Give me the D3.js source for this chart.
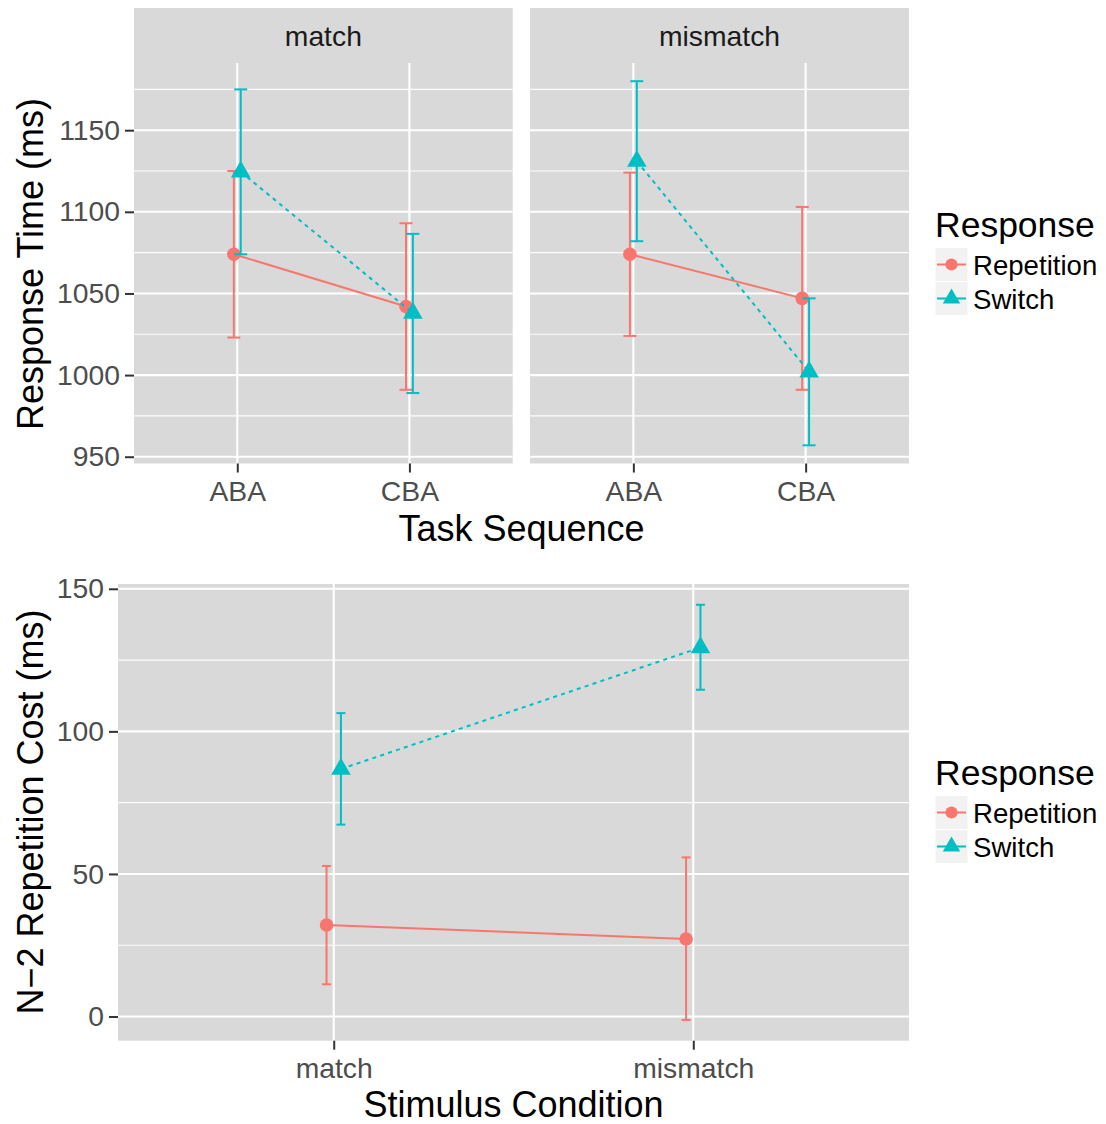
<!DOCTYPE html>
<html>
<head>
<meta charset="utf-8">
<script src="https://cdn.jsdelivr.net/npm/d3@7"></script>
<style>
  body { margin: 0; background: #fff; }
  svg { display: block; font-family: "Liberation Sans", Arial, Helvetica, sans-serif; }
</style>
</head>
<body>
<div id="app"></div>
<script>
// ---- data ----
const facets = ["match", "mismatch"];
const sequences = ["ABA", "CBA"];
const responses = ["Repetition", "Switch"];

// response time per facet: [ABA, CBA]
const rtRepMean   = { match: [1074, 1042], mismatch: [1074, 1047] };
const rtRepLow    = { match: [1023, 991],  mismatch: [1024, 991] };
const rtRepHigh   = { match: [1125, 1093], mismatch: [1124, 1103] };
const rtSwMean    = { match: [1124.5, 1038], mismatch: [1131, 1002] };
const rtSwLow     = { match: [1074, 989],  mismatch: [1082, 957] };
const rtSwHigh    = { match: [1175, 1086.5], mismatch: [1180, 1047] };

// n-2 repetition cost: [match, mismatch]
const conditions = ["match", "mismatch"];
const costRepMean = [32.1, 27.2];
const costRepLow  = [11.3, -1.2];
const costRepHigh = [52.8, 55.8];
const costSwMean  = [86.8, 129.4];
const costSwLow   = [67.3, 114.6];
const costSwHigh  = [106.4, 144.4];

const rtTicks = [950, 1000, 1050, 1100, 1150];
const rtMinor = [975, 1025, 1075, 1125, 1175];
const costTicks = [0, 50, 100, 150];
const costMinor = [25, 75, 125];

const colors = { Repetition: "#F8766D", Switch: "#00BFC4" };
const shapes = { Repetition: d3.symbolCircle, Switch: d3.symbolTriangle };
const shapeSize = { Repetition: 145, Switch: 165 };

const width = 1106, height = 1124;
const panelBg = "#D9D9D9";
const axisGrey = "#4D4D4D";
const smallFont = 28.3, bigFont = 36;

const svg = d3.select("#app").append("svg")
  .attr("width", width).attr("height", height);

// ggplot-like 5% expansion
function expand(lo, hi) {
  const span = hi - lo;
  return [lo - span * 0.05, hi + span * 0.05];
}

function rows(meanA, lowA, highA, resp, cats) {
  return cats.map((c, i) => ({ cat: c, resp: resp, mean: meanA[i], low: lowA[i], high: highA[i] }));
}

function drawPanel(g, x, y, data, minor, major, capW) {
  const [x0, x1] = x.range();
  const [y1, y0] = y.range();
  g.append("rect").attr("x", x0).attr("y", y0).attr("width", x1 - x0).attr("height", y1 - y0)
    .attr("fill", panelBg);

  g.selectAll(".minor").data(minor.filter(v => y(v) > y0 && y(v) < y1)).join("line")
    .attr("x1", x0).attr("x2", x1).attr("y1", d => y(d)).attr("y2", d => y(d))
    .attr("stroke", "#fff").attr("stroke-width", 1.1).attr("opacity", 0.95);
  g.selectAll(".major").data(major).join("line")
    .attr("x1", x0).attr("x2", x1).attr("y1", d => y(d)).attr("y2", d => y(d))
    .attr("stroke", "#fff").attr("stroke-width", 2.1);
  g.selectAll(".vmajor").data(x.domain()).join("line")
    .attr("x1", d => x(d)).attr("x2", d => x(d)).attr("y1", y0).attr("y2", y1)
    .attr("stroke", "#fff").attr("stroke-width", 2.1);

  const dodge = x.step() * 0.02;
  const px = d => x(d.cat) + (d.resp === "Repetition" ? -dodge : dodge);

  responses.forEach(r => {
    const sub = data.filter(d => d.resp === r);
    const col = colors[r];
    // error bars
    const eb = g.append("g");
    sub.forEach(d => {
      const cx = px(d);
      eb.append("line").attr("x1", cx).attr("x2", cx).attr("y1", y(d.low)).attr("y2", y(d.high))
        .attr("stroke", col).attr("stroke-width", 2);
      [d.low, d.high].forEach(v => eb.append("line")
        .attr("x1", cx - capW / 2).attr("x2", cx + capW / 2).attr("y1", y(v)).attr("y2", y(v))
        .attr("stroke", col).attr("stroke-width", 2));
    });
    // connecting line
    g.append("path").datum(sub)
      .attr("d", d3.line().x(px).y(d => y(d.mean)))
      .attr("fill", "none").attr("stroke", col).attr("stroke-width", 2)
      .attr("stroke-dasharray", r === "Switch" ? "4,4.3" : null);
    // points
    g.selectAll(null).data(sub).join("path")
      .attr("transform", d => `translate(${px(d)},${y(d.mean)})`)
      .attr("d", d3.symbol().type(shapes[r]).size(shapeSize[r]))
      .attr("fill", col);
  });
}

function yAxis(g, y, ticks, xPos) {
  const ax = g.append("g").attr("transform", `translate(${xPos},0)`)
    .call(d3.axisLeft(y).tickValues(ticks).tickFormat(d3.format("d")).tickSize(9).tickPadding(5));
  ax.select(".domain").remove();
  ax.selectAll(".tick line").attr("stroke", "#333").attr("stroke-width", 2);
  ax.selectAll(".tick text").attr("fill", axisGrey).attr("font-size", smallFont)
    .attr("font-family", "Liberation Sans, Arial, sans-serif");
}

function xAxis(g, x, yPos) {
  const ax = g.append("g").attr("transform", `translate(0,${yPos})`)
    .call(d3.axisBottom(x).tickSize(9).tickPadding(8));
  ax.select(".domain").remove();
  ax.selectAll(".tick line").attr("stroke", "#333").attr("stroke-width", 2);
  ax.selectAll(".tick text").attr("fill", axisGrey).attr("font-size", smallFont)
    .attr("font-family", "Liberation Sans, Arial, sans-serif");
}

function legend(g, x0, yTitle, yKeys) {
  g.append("text").attr("x", x0).attr("y", yTitle).attr("font-size", 35.5).attr("fill", "#000")
    .text("Response");
  responses.forEach((r, i) => {
    const keyTop = yKeys + i * 34;
    const cy = keyTop + 17;
    g.append("rect").attr("x", x0).attr("y", keyTop).attr("width", 33).attr("height", 34)
      .attr("fill", "#F2F2F2").attr("stroke", "#fff").attr("stroke-width", 1);
    g.append("line").attr("x1", x0 + 2).attr("x2", x0 + 31).attr("y1", cy).attr("y2", cy)
      .attr("stroke", colors[r]).attr("stroke-width", 2);
    g.append("path").attr("transform", `translate(${x0 + 16.5},${cy})`)
      .attr("d", d3.symbol().type(shapes[r]).size(shapeSize[r] * 0.8)).attr("fill", colors[r]);
    g.append("text").attr("x", x0 + 38).attr("y", cy + 10).attr("font-size", 27.6).attr("fill", "#000")
      .text(r);
  });
}

// ---- top: response time faceted by stimulus condition ----
const topG = svg.append("g");
const allRt = [];
facets.forEach(f => {
  allRt.push(...rtRepLow[f], ...rtRepHigh[f], ...rtSwLow[f], ...rtSwHigh[f]);
});
const yRt = d3.scaleLinear().domain(expand(d3.min(allRt), d3.max(allRt))).range([463.5, 63]);
const panelX = { match: [134, 512.7], mismatch: [530, 909] };

facets.forEach(f => {
  const x = d3.scalePoint().domain(sequences).range(panelX[f]).padding(0.6);
  // strip
  topG.append("rect").attr("x", panelX[f][0]).attr("y", 8)
    .attr("width", panelX[f][1] - panelX[f][0]).attr("height", 55).attr("fill", panelBg);
  topG.append("text").attr("x", (panelX[f][0] + panelX[f][1]) / 2).attr("y", 46)
    .attr("text-anchor", "middle").attr("font-size", smallFont).attr("fill", "#1A1A1A").text(f);
  const data = rows(rtRepMean[f], rtRepLow[f], rtRepHigh[f], "Repetition", sequences)
    .concat(rows(rtSwMean[f], rtSwLow[f], rtSwHigh[f], "Switch", sequences));
  drawPanel(topG.append("g"), x, yRt, data, rtMinor, rtTicks, 13);
  xAxis(topG, x, 463.5);
});
yAxis(topG, yRt, rtTicks, 134);

topG.append("text").attr("x", (134 + 909) / 2).attr("y", 541).attr("text-anchor", "middle")
  .attr("font-size", bigFont).attr("fill", "#000").text("Task Sequence");
topG.append("text").attr("transform", `translate(43,264) rotate(-90)`).attr("text-anchor", "middle")
  .attr("font-size", bigFont).attr("fill", "#000").text("Response Time (ms)");
legend(topG, 935, 237, 247.5);

// ---- bottom: n-2 repetition cost ----
const botG = svg.append("g");
const allCost = [...costRepLow, ...costRepHigh, ...costSwLow, ...costSwHigh];
const yCost = d3.scaleLinear().domain(expand(d3.min(allCost), d3.max(allCost))).range([1040.7, 584]);
const xCost = d3.scalePoint().domain(conditions).range([118, 909]).padding(0.6);
const costData = rows(costRepMean, costRepLow, costRepHigh, "Repetition", conditions)
  .concat(rows(costSwMean, costSwLow, costSwHigh, "Switch", conditions));
drawPanel(botG.append("g"), xCost, yCost, costData, costMinor, costTicks, 9);
xAxis(botG, xCost, 1040.7);
yAxis(botG, yCost, costTicks, 118);

botG.append("text").attr("x", (118 + 909) / 2).attr("y", 1117).attr("text-anchor", "middle")
  .attr("font-size", bigFont).attr("fill", "#000").text("Stimulus Condition");
botG.append("text").attr("transform", `translate(43,812) rotate(-90)`).attr("text-anchor", "middle")
  .attr("font-size", bigFont).attr("fill", "#000").text("N\u22122 Repetition Cost (ms)");
legend(botG, 935, 785, 795.5);
</script>
</body>
</html>
